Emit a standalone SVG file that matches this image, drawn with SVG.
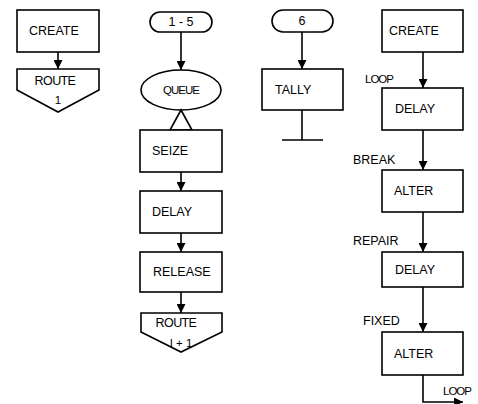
<svg xmlns="http://www.w3.org/2000/svg" width="478" height="404" viewBox="0 0 478 404">
<style>
.b{fill:#fff;stroke:#000;stroke-width:1.6}
.c{fill:none;stroke:#000;stroke-width:1.6}
text{font-family:"Liberation Sans",Arial,sans-serif;font-size:12.5px;fill:#000}
.m{text-anchor:middle}
.s{font-size:11.5px}
</style>
<defs>
<marker id="ah" viewBox="0 0 10 10" refX="10" refY="5" markerWidth="10" markerHeight="9" markerUnits="userSpaceOnUse" orient="auto">
<path d="M0,0 L10,5 L0,10 z" fill="#000"/>
</marker>
</defs>
<rect width="478" height="404" fill="#fff"/>
<g id="connectors">
<line class="c" x1="58" y1="52" x2="58" y2="69" marker-end="url(#ah)"/>
<line class="c" x1="181" y1="32" x2="181" y2="70" marker-end="url(#ah)"/>
<line class="c" x1="181" y1="172" x2="181" y2="191" marker-end="url(#ah)"/>
<line class="c" x1="181" y1="233" x2="181" y2="252" marker-end="url(#ah)"/>
<line class="c" x1="181" y1="292" x2="181" y2="313" marker-end="url(#ah)"/>
<line class="c" x1="302" y1="32" x2="302" y2="69" marker-end="url(#ah)"/>
<line class="c" x1="423" y1="52" x2="423" y2="88" marker-end="url(#ah)"/>
<line class="c" x1="423" y1="130" x2="423" y2="170" marker-end="url(#ah)"/>
<line class="c" x1="423" y1="212" x2="423" y2="252" marker-end="url(#ah)"/>
<line class="c" x1="423" y1="287" x2="423" y2="332" marker-end="url(#ah)"/>
<polyline class="c" points="423,375 423,402 463,402" marker-end="url(#ah)"/>
</g>
<g id="create1"><rect class="b" x="17" y="10" width="82" height="42"/><text x="29" y="35">CREATE</text></g>
<g id="route1"><polygon class="b" points="17,69 99,69 99,90 58,112 17,90"/><text x="55" y="85" class="m" letter-spacing="-0.6">ROUTE</text><text x="58" y="104" class="m s">1</text></g>
<g id="station1-5"><rect class="b" x="150" y="12" width="62" height="20" rx="10"/><text x="181" y="26" class="m">1 - 5</text></g>
<g id="queue"><ellipse class="b" cx="181" cy="90" rx="40" ry="20"/><text x="181" y="94" class="m s" letter-spacing="-1">QUEUE</text><polygon class="c" points="181,110 170,130 192,130"/></g>
<g id="seize"><rect class="b" x="140" y="130" width="82" height="42"/><text x="152" y="155">SEIZE</text></g>
<g id="delay1"><rect class="b" x="140" y="191" width="82" height="42"/><text x="152" y="216">DELAY</text></g>
<g id="release"><rect class="b" x="140" y="252" width="82" height="40"/><text x="153" y="276">RELEASE</text></g>
<g id="route2"><polygon class="b" points="141,313 222,313 222,332 181,352 141,332"/><text x="176" y="327" class="m" letter-spacing="-0.6">ROUTE</text><text x="181" y="347" class="m s">I + 1</text></g>
<g id="station6"><rect class="b" x="272" y="10" width="61" height="22" rx="11"/><text x="302" y="25" class="m">6</text></g>
<g id="tally"><rect class="b" x="262" y="69" width="81" height="41"/><text x="275" y="94">TALLY</text><line class="c" x1="302" y1="110" x2="302" y2="140"/><line class="c" x1="282" y1="140" x2="323" y2="140"/></g>
<g id="create2"><rect class="b" x="382" y="10" width="81" height="42"/><text x="389" y="35">CREATE</text></g>
<g id="delay2"><rect class="b" x="382" y="88" width="81" height="42"/><text x="395" y="113">DELAY</text></g>
<g id="alter1"><rect class="b" x="382" y="170" width="81" height="42"/><text x="394" y="195">ALTER</text></g>
<g id="delay3"><rect class="b" x="382" y="252" width="81" height="35"/><text x="395" y="274">DELAY</text></g>
<g id="alter2"><rect class="b" x="382" y="332" width="81" height="43"/><text x="394" y="358">ALTER</text></g>
<g id="labels">
<text x="365" y="83" class="s" letter-spacing="-1">LOOP</text>
<text x="353" y="164">BREAK</text>
<text x="353" y="245">REPAIR</text>
<text x="363" y="325">FIXED</text>
<text x="443" y="395" class="s" letter-spacing="-1">LOOP</text>
</g>
</svg>
